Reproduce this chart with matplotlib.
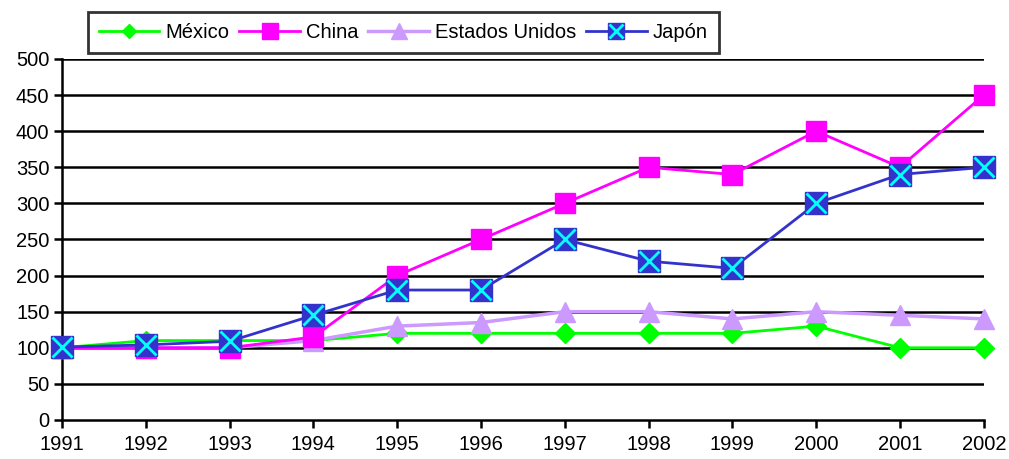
import matplotlib.pyplot as plt
from matplotlib.legend_handler import HandlerTuple

plt.rcParams["font.family"] = ["Liberation Sans", "DejaVu Sans"]

years = [1991, 1992, 1993, 1994, 1995, 1996, 1997, 1998, 1999, 2000, 2001, 2002]
mexico = [100, 110, 110, 110, 120, 120, 120, 120, 120, 130, 100, 100]
china = [100, 100, 100, 115, 200, 250, 300, 350, 340, 400, 350, 450]
eeuu = [100, 100, 100, 110, 130, 135, 150, 150, 140, 150, 145, 140]
japon = [101, 104, 109, 145, 180, 180, 250, 220, 210, 300, 340, 350]
yticks = list(range(0, 501, 50))

fig = plt.figure(figsize=(10.09, 4.59), dpi=100)
ax = fig.add_axes([0.0614, 0.085, 0.9136, 0.7865])

for y in yticks[1:]:
    ax.axhline(y, color="black", lw=1.8, zorder=1)

h_mx, = ax.plot(years, mexico, color="#00FF00", lw=2, marker="D", ms=10,
                mec="#00FF00", mfc="#00FF00", zorder=3, clip_on=False)
h_cn, = ax.plot(years, china, color="#FF00FF", lw=2, marker="s", ms=15,
                mec="#FF00FF", mfc="#FF00FF", zorder=4, clip_on=False)
h_us, = ax.plot(years, eeuu, color="#CC99FF", lw=2.5, marker="^", ms=15,
                mec="#CC99FF", mfc="#CC99FF", zorder=3, clip_on=False)
h_jp, = ax.plot(years, japon, color="#3333CC", lw=2, marker="s", ms=16,
                mec="#3333CC", mfc="#3333CC", zorder=5, clip_on=False)
h_jx, = ax.plot(years, japon, ls="none", marker="x", ms=14, mew=2,
                color="#00FFFF", zorder=6, clip_on=False)

ax.set_xlim(1991, 2002)
ax.set_ylim(0, 500)
ax.set_xticks(years)
ax.set_yticks(yticks)
ax.tick_params(axis="both", direction="out", length=6, width=1.8,
               labelsize=14.5, colors="black")
ax.tick_params(axis="x", pad=5)
ax.tick_params(axis="y", pad=3)
for side in ("top", "right"):
    ax.spines[side].set_visible(False)
for side in ("left", "bottom"):
    ax.spines[side].set_linewidth(1.8)

leg = fig.legend(
    [h_mx, h_cn, h_us, (h_jp, h_jx)],
    ["México", "China", "Estados Unidos", "Japón"],
    handler_map={tuple: HandlerTuple(ndivide=1)},
    loc="upper left", bbox_to_anchor=(0.087, 0.974), borderaxespad=0,
    ncol=4, fontsize=14.5, frameon=True, fancybox=False, edgecolor="black",
    handlelength=3.0, columnspacing=0.5, handletextpad=0.3,
    borderpad=0.55, markerscale=0.75,
)
leg.get_frame().set_linewidth(2)

fig.savefig("out.png", dpi=100)
